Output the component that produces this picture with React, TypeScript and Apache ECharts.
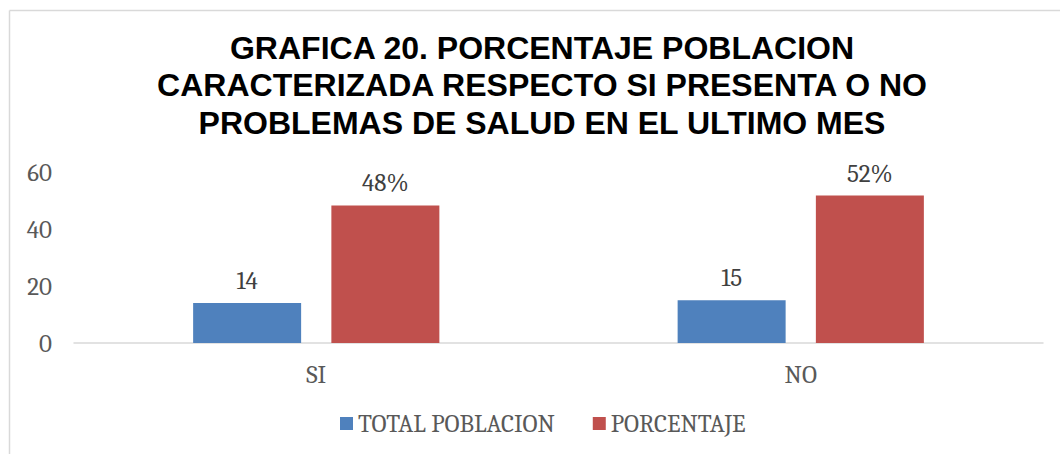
import React, { useEffect, useRef } from "react";
import * as echarts from "echarts";

const categories = ["SI", "NO"];
const totalPoblacion = [14, 15];
const porcentaje = [48.28, 51.72];
const yTicks = [0, 20, 40, 60];
const titleLines = [
  "GRAFICA 20. PORCENTAJE POBLACION",
  "CARACTERIZADA RESPECTO SI PRESENTA O NO",
  "PROBLEMAS DE SALUD EN EL ULTIMO MES",
];
const seriesNames = ["TOTAL POBLACION", "PORCENTAJE"];

const SERIF = "Cambria, 'DejaVu Serif', serif";
const FS = 25;

export default function App() {
  const ref = useRef<HTMLDivElement>(null);
  useEffect(() => {
    document.body.style.margin = "0";
    const chart = echarts.init(ref.current!, null, { renderer: "svg" });
    chart.setOption({
      animation: false,
      backgroundColor: "#ffffff",
      graphic: [
        {
          type: "line",
          shape: { x1: 9.5, y1: 10.5, x2: 1060, y2: 10.5 },
          style: { stroke: "#d9d9d9", lineWidth: 1.5 },
          silent: true,
        },
        {
          type: "line",
          shape: { x1: 9.5, y1: 10.5, x2: 9.5, y2: 454 },
          style: { stroke: "#d9d9d9", lineWidth: 1.5 },
          silent: true,
        },
        {
          type: "text",
          x: 542,
          y: 29,
          style: {
            text: titleLines.join("\n"),
            fontFamily: "'Liberation Sans', Arial, sans-serif",
            fontWeight: "bold",
            fontSize: 32,
            lineHeight: 37.5,
            fill: "#000000",
            textAlign: "center",
            textVerticalAlign: "top",
          },
        },
      ],
      legend: {
        bottom: 13,
        left: 335,
        itemWidth: 13,
        itemHeight: 13,
        itemGap: 38,
        icon: "rect",
        textStyle: { fontFamily: SERIF, fontSize: FS, color: "#595959" },
        data: seriesNames,
      },
      grid: { left: 74, right: 17, top: 172, bottom: 111 },
      xAxis: {
        type: "category",
        data: categories,
        axisLine: { lineStyle: { color: "#d9d9d9", width: 1.5 } },
        axisTick: { show: false },
        axisLabel: { fontFamily: SERIF, fontSize: FS, color: "#595959", margin: 19 },
      },
      yAxis: {
        type: "value",
        min: 0,
        max: yTicks[yTicks.length - 1],
        interval: 20,
        axisLine: { show: false },
        axisTick: { show: false },
        splitLine: { show: false },
        axisLabel: { fontFamily: SERIF, fontSize: FS, color: "#595959", margin: 22 },
      },
      series: [
        {
          name: seriesNames[0],
          type: "bar",
          data: totalPoblacion,
          barWidth: 108,
          barGap: "28%",
          itemStyle: { color: "#4f81bd" },
          label: {
            show: true,
            position: "top",
            distance: 10,
            fontFamily: SERIF,
            fontSize: FS,
            color: "#404040",
          },
        },
        {
          name: seriesNames[1],
          type: "bar",
          data: porcentaje,
          barWidth: 108,
          itemStyle: { color: "#c0504d" },
          label: {
            show: true,
            position: "top",
            distance: 10,
            fontFamily: SERIF,
            fontSize: FS,
            color: "#404040",
            formatter: (p: any) => Math.round(p.value) + "%",
          },
        },
      ],
    });
    return () => chart.dispose();
  }, []);
  return (
    <div
      ref={ref}
      style={{ position: "fixed", left: 0, top: 0, width: 1060, height: 454 }}
    />
  );
}
